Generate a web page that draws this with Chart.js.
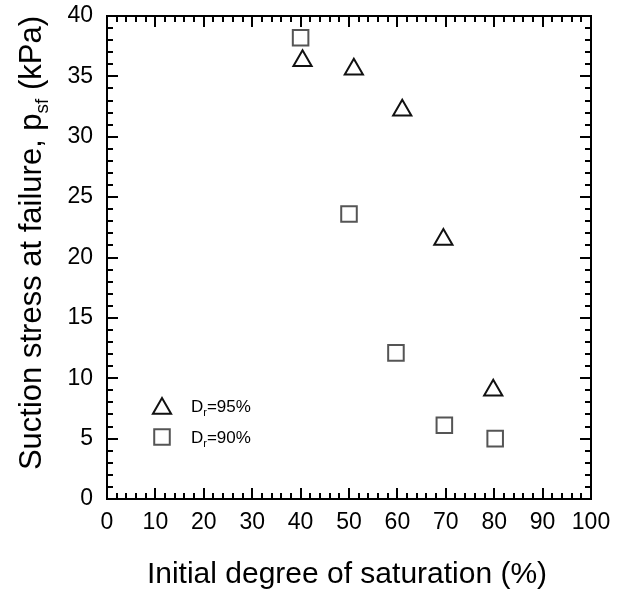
<!DOCTYPE html>
<html>
<head>
<meta charset="utf-8">
<script src="https://cdn.jsdelivr.net/npm/chart.js@4.4.0/dist/chart.umd.min.js"></script>
<style>
  html, body { margin: 0; padding: 0; background: #fff; }
  #wrap { width: 626px; height: 589px; }
</style>
</head>
<body>
<div id="wrap"><canvas id="myChart"></canvas></div>
<script>
// values
const saturation95 = [40.4, 51, 61, 69.5, 79.8]
const suction95 = [36.3, 35.6, 32.2, 21.5, 9.0]
const saturation90 = [40, 50, 59.7, 69.7, 80.2]
const suction90 = [38.2, 23.6, 12.1, 6.1, 5.0]
const seriesNames = ['=95%', '=90%']
const xTicks = [0, 10, 20, 30, 40, 50, 60, 70, 80, 90, 100]
const yTicks = [0, 5, 10, 15, 20, 25, 30, 35, 40]

const FONT = '"Liberation Sans", Arial, sans-serif'
const ctx = document.getElementById('myChart')

const toPoints = (xs, ys) => xs.map((v, i) => ({ x: v, y: ys[i] }))

// inward ticks on all four sides, frame, titles and legend
const decorations = {
  id: 'decorations',
  afterDatasetsDraw(chart) {
    const c = chart.ctx
    const a = chart.chartArea
    const x = chart.scales.x
    const y = chart.scales.y
    c.save()
    c.strokeStyle = '#000'
    c.lineWidth = 2
    c.beginPath()
    for (let v = 0; v <= 100; v += 2) {
      const px = Math.round(x.getPixelForValue(v))
      const len = v % 10 === 0 ? 11 : 6
      c.moveTo(px, a.bottom); c.lineTo(px, a.bottom - len)
      c.moveTo(px, a.top); c.lineTo(px, a.top + len)
    }
    for (let v = 0; v <= 40; v += 1) {
      const py = Math.round(y.getPixelForValue(v))
      const len = v % 5 === 0 ? 11 : 6
      c.moveTo(a.left, py); c.lineTo(a.left + len, py)
      c.moveTo(a.right, py); c.lineTo(a.right - len, py)
    }
    c.stroke()
    c.strokeRect(a.left, a.top, a.right - a.left, a.bottom - a.top)

    c.fillStyle = '#000'
    c.textBaseline = 'alphabetic'

    // x title
    c.font = '30px ' + FONT
    c.textAlign = 'center'
    c.fillText('Initial degree of saturation (%)', (a.left + a.right) / 2 - 2, 583)

    // y title with subscript
    const parts = [['Suction stress at failure, p', 31, 0], ['sf', 19, 7], [' (kPa)', 31, 0]]
    let total = 0
    parts.forEach(p => { c.font = p[1] + 'px ' + FONT; total += c.measureText(p[0]).width })
    c.translate(41, 243)
    c.rotate(-Math.PI / 2)
    c.textAlign = 'left'
    let cx = -total / 2
    parts.forEach(p => {
      c.font = p[1] + 'px ' + FONT
      c.fillText(p[0], cx, p[2])
      cx += c.measureText(p[0]).width
    })
    c.setTransform(1, 0, 0, 1, 0, 0)

    // legend
    const rows = [406, 437]
    chart.data.datasets.forEach((ds, i) => {
      c.strokeStyle = ds.borderColor
      c.fillStyle = 'rgba(0,0,0,0)'
      c.lineWidth = ds.borderWidth
      Chart.helpers.drawPoint(c, {
        pointStyle: ds.pointStyle, radius: ds.pointRadius, rotation: 0, borderWidth: ds.borderWidth
      }, 162, rows[i] + (ds.pointStyle === 'triangle' ? 2.5 : 0))
      c.fillStyle = '#000'
      c.textAlign = 'left'
      c.font = '17px ' + FONT
      let tx = 191
      const base = rows[i] + 6
      c.fillText('D', tx, base)
      tx += c.measureText('D').width
      c.font = '11px ' + FONT
      c.fillText('r', tx, base + 4)
      tx += c.measureText('r').width
      c.font = '17px ' + FONT
      c.fillText(ds.label, tx, base)
    })
    c.restore()
  }
}

new Chart(ctx, {
  type: 'scatter',
  data: {
    datasets: [{
      label: seriesNames[0],
      data: toPoints(saturation95, suction95),
      pointStyle: 'triangle',
      pointRadius: 10.5,
      pointHoverRadius: 10.5,
      borderWidth: 2,
      borderColor: '#111',
      backgroundColor: 'rgba(0,0,0,0)'
    }, {
      label: seriesNames[1],
      data: toPoints(saturation90, suction90),
      pointStyle: 'rect',
      pointRadius: 11,
      pointHoverRadius: 11,
      borderWidth: 2,
      borderColor: '#555',
      backgroundColor: 'rgba(0,0,0,0)'
    }]
  },
  options: {
    responsive: true,
    maintainAspectRatio: false,
    animation: false,
    layout: { padding: { top: 16, right: 35, left: 0, bottom: 0 } },
    plugins: {
      legend: { display: false },
      tooltip: { enabled: false }
    },
    scales: {
      x: {
        type: 'linear',
        min: 0,
        max: 100,
        afterBuildTicks: s => { s.ticks = xTicks.map(v => ({ value: v })) },
        afterFit: s => { s.height = 90; s.paddingLeft = 0; s.paddingRight = 0 },
        grid: { display: false, drawTicks: false },
        border: { display: false },
        ticks: { color: '#000', padding: 10, maxRotation: 0, font: { family: FONT, size: 23 } }
      },
      y: {
        type: 'linear',
        min: 0,
        max: 40,
        afterBuildTicks: s => { s.ticks = yTicks.map(v => ({ value: v })) },
        afterFit: s => { s.width = 107; s.paddingTop = 0; s.paddingBottom = 0 },
        grid: { display: false, drawTicks: false },
        border: { display: false },
        ticks: { color: '#000', padding: 14, font: { family: FONT, size: 23 } }
      }
    }
  },
  plugins: [decorations]
})
</script>
</body>
</html>
